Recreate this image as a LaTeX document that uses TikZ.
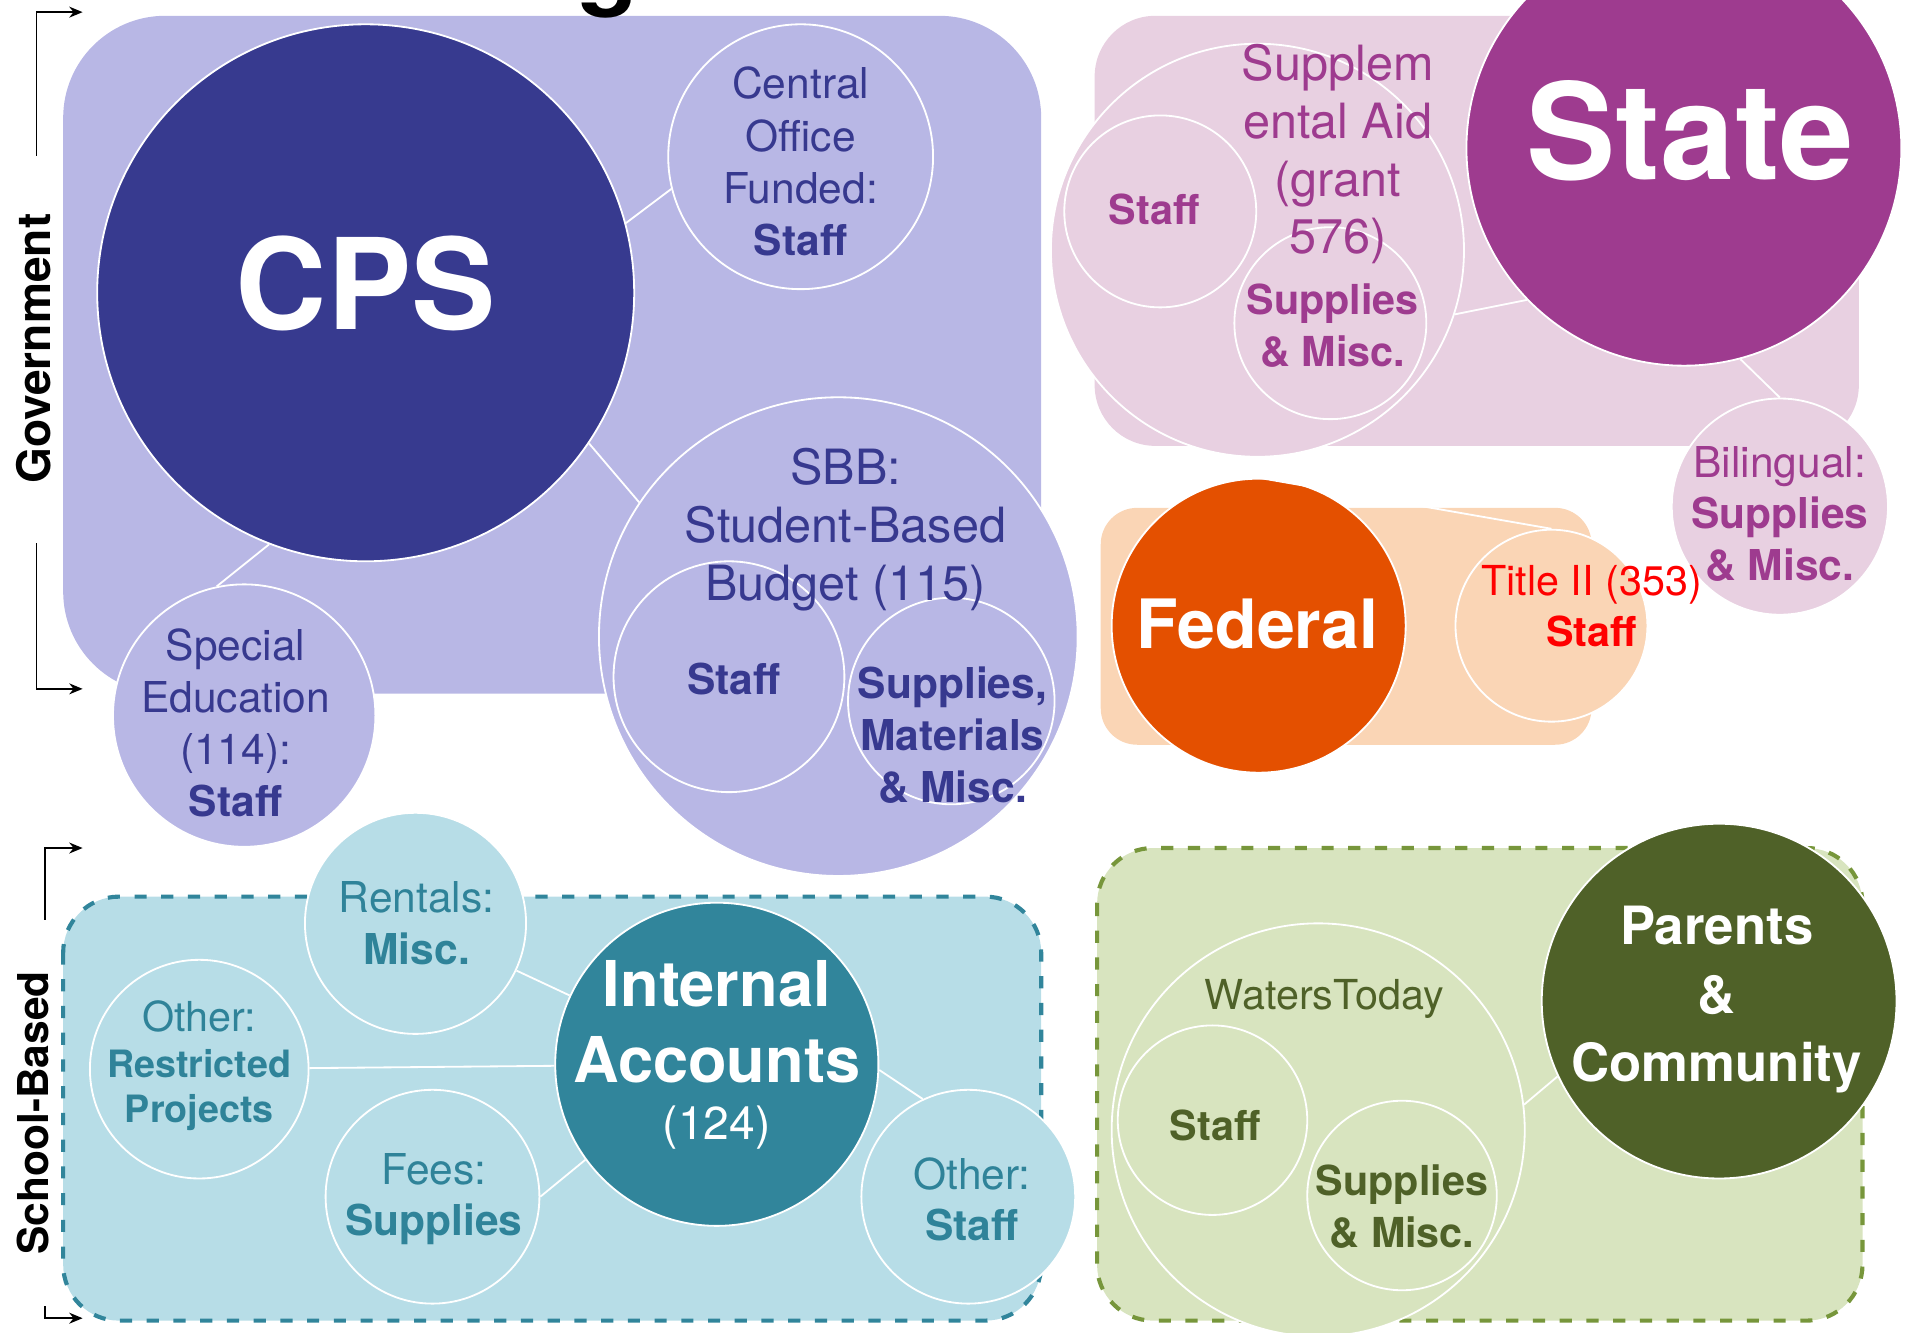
\documentclass[tikz,border=0pt]{standalone}
\usepackage{fontspec}
\setmainfont{TeX Gyre Heros}
\usetikzlibrary{arrows.meta}
\definecolor{lav}{RGB}{184,183,229}
\definecolor{navy}{RGB}{55,58,143}
\definecolor{navyT}{RGB}{55,57,143}
\definecolor{pinkbg}{RGB}{232,208,225}
\definecolor{mag}{RGB}{158,59,143}
\definecolor{peach}{RGB}{250,213,181}
\definecolor{fedor}{RGB}{228,80,0}
\definecolor{ltblue}{RGB}{183,221,231}
\definecolor{teal2}{RGB}{49,133,155}
\definecolor{tealT}{RGB}{47,131,153}
\definecolor{ltgreen}{RGB}{216,228,191}
\definecolor{olive2}{RGB}{79,97,40}
\definecolor{olivedash}{RGB}{119,150,59}
\newcommand\fs[2]{\fontsize{#1}{#2}\selectfont}
\begin{document}
\begin{tikzpicture}[x=0.5pt,y=-0.5pt,
  circ/.style={circle,draw=white,line width=0.75pt,inner sep=0pt,minimum size=#1},
  conn/.style={draw=white,line width=0.75pt},
  lbl/.style={align=center,inner sep=0pt},
  brk/.style={draw=black,line width=0.75pt,-{Stealth[length=5.5pt,width=4.5pt]}},
  dashbox/.style={line width=1.7pt,dash pattern=on 5pt off 6pt,rounded corners=23pt}]
\useasboundingbox (0,0) rectangle (1568,1097);
\clip (0,0) rectangle (1568,1097);
% regions
\path[fill=lav,rounded corners=42pt] (52,13) rectangle (857,571);
\path[fill=pinkbg,rounded corners=25pt] (901,13) rectangle (1530,367);
\path[fill=peach,rounded corners=15pt] (906,418) rectangle (1310,613);
\draw[dashbox,fill=ltblue,draw=teal2] (52,738) rectangle (857,1087);
\draw[dashbox,fill=ltgreen,draw=olivedash] (903,698) rectangle (1533,1087);
% government circles
\node[circ=221pt,fill=navy] (cps) at (301,241) {};
\node[circ=109pt,fill=lav] (cof) at (659,129) {};
\node[circ=197pt,fill=lav] (sbb) at (690,524) {};
\node[circ=95pt,fill=lav] (sbbstaff) at (600,557) {};
\node[circ=85pt,fill=lav] (sbbsup) at (783,577) {};
\node[circ=108pt,fill=lav] (sped) at (201,589) {};
% state circles
\node[circ=170pt,fill=pinkbg] (supp) at (1035,206) {};
\node[circ=79pt,fill=pinkbg] (suppstaff) at (955,174) {};
\node[circ=79pt,fill=pinkbg] (suppsup) at (1095,266) {};
\node[circ=179pt,fill=mag] (state) at (1386,122) {};
\node[circ=89pt,fill=pinkbg] (biling) at (1465,417) {};
% federal
\node[circ=121pt,fill=fedor] (fed) at (1036,515) {};
\node[circ=79pt,fill=peach] (title) at (1277,515) {};
% school-based
\node[circ=91pt,fill=ltblue] (rent) at (342,760) {};
\node[circ=90pt,fill=ltblue] (restr) at (164,880) {};
\node[circ=88pt,fill=ltblue] (fees) at (356,985) {};
\node[circ=133pt,fill=teal2] (ia) at (590,876) {};
\node[circ=88pt,fill=ltblue] (ostaff) at (797,985) {};
% parents
\node[circ=170pt,fill=ltgreen] (wt) at (1085,930) {};
\node[circ=78pt,fill=ltgreen] (wtstaff) at (998,922) {};
\node[circ=78pt,fill=ltgreen] (wtsup) at (1154,984) {};
\node[circ=146pt,fill=olive2] (pc) at (1415,824) {};
% connectors
\draw[conn] (cps.15) -- (cof.194);
\draw[conn] (cps.-34.5) -- (sbb.146);
\draw[conn] (cps.-111) -- (sped.102);
\draw[conn] (supp.-18) -- (state.-136);
\draw[conn] (state.-75) -- (biling.90);
\draw[conn] (fed.north) -- (title.north);
\draw[conn] (rent) -- (ia);
\draw[conn] (restr) -- (ia);
\draw[conn] (fees.0) -- (ia.216);
\draw[conn] (ia.-2) -- (ostaff.115);
\draw[conn] (wt.7) -- (pc.205);
% texts
\node[lbl,white,font=\bfseries\fs{52}{60}] (tcps) at (301,233) {CPS};
\node[lbl,text=navyT,font=\fs{17.5}{21.5}] (tcof) at (659,133) {Central\\Office\\Funded:\\\textbf{Staff}};
\node[lbl,text=navyT,font=\fs{20}{23.75}] (tsbb) at (696,436) {SBB:\\Student-Based\\Budget (115)};
\node[lbl,text=navyT,font=\bfseries\fs{17.5}{21}] (tsbbstaff) at (604,559) {Staff};
\node[lbl,text=navyT,font=\bfseries\fs{17.5}{21.25}] (tsbbsup) at (784,605) {Supplies,\\Materials\\\& Misc.};
\node[lbl,text=navyT,font=\fs{17.5}{21.5}] (tsped) at (194,595) {Special\\Education\\(114):\\\textbf{Staff}};
\node[lbl,text=mag,font=\fs{20}{23.75}] (tsupp) at (1101,127) {Supplem\\ental Aid\\(grant\\576)};
\node[lbl,text=mag,font=\bfseries\fs{17}{21}] (tsuppstaff) at (950,172) {Staff};
\node[lbl,text=mag,font=\bfseries\fs{17}{21.5}] (tsuppsup) at (1097,268) {Supplies\\\& Misc.};
\node[lbl,white,font=\bfseries\fs{55}{60}] (tstate) at (1391,108) {State};
\node[lbl,text=mag,font=\fs{17.5}{21.25}] (tbil) at (1465,423) {Bilingual:\\\textbf{Supplies}\\\textbf{\& Misc.}};
\node[lbl,white,font=\bfseries\fs{28}{32}] (tfed) at (1035,514) {Federal};
\node[lbl,text=red,font=\fs{17}{21}] (ttitle) at (1310,499) {Title II (353)\\\textbf{Staff}};
\node[lbl,text=tealT,font=\fs{17.5}{21.5}] (trent) at (343,760) {Rentals:\\\textbf{Misc.}};
\node[lbl,text=tealT,font=\fs{17}{20}] (trestr1) at (164,837) {Other:};
\node[lbl,text=tealT,font=\bfseries\fs{15.5}{18.5}] (trestr2) at (164,897) {Restricted\\Projects};
\node[lbl,text=tealT,font=\fs{17.5}{21}] (tfees) at (357,987) {Fees:\\\textbf{Supplies}};
\node[lbl,white,font=\bfseries\fs{26}{31}] (tia1) at (590,841) {Internal\\Accounts};
\node[lbl,white,font=\fs{19}{22}] (tia2) at (590,928) {(124)};
\node[lbl,text=tealT,font=\fs{17.5}{21}] (tostaff) at (800,987) {Other:\\\textbf{Staff}};
\node[lbl,text=olive2,font=\fs{17}{20}] (twt) at (1090,822) {WatersToday};
\node[lbl,text=olive2,font=\bfseries\fs{17}{20}] (twtstaff) at (1000,926) {Staff};
\node[lbl,text=olive2,font=\bfseries\fs{17}{21.5}] (twtsup) at (1154,993) {Supplies\\\& Misc.};
\node[lbl,white,font=\bfseries\fs{21.7}{28.25}] (tpc) at (1413,823) {Parents\\\&\\Community};
% side labels and brackets
\node[lbl,rotate=90,font=\bfseries\fs{19}{22}] (tgov) at (28,287) {Government};
\node[lbl,rotate=90,font=\bfseries\fs{17.5}{21}] (tschool) at (27,916) {School-Based};
\coordinate (gA) at (30,128); \coordinate (gB) at (68,10);
\coordinate (gC) at (30,447); \coordinate (gD) at (68,567);
\coordinate (sA) at (37,757); \coordinate (sB) at (68,698);
\coordinate (sC) at (37,1075); \coordinate (sD) at (68,1085);
\draw[brk] (gA) |- (gB);
\draw[brk] (gC) |- (gD);
\draw[brk] (sA) |- (sB);
\draw[brk] (sC) |- (sD);
\node[anchor=base,inner sep=0pt,font=\bfseries\fs{41}{45}] (tg) at (500,-3) {g};
\end{tikzpicture}
\end{document}
